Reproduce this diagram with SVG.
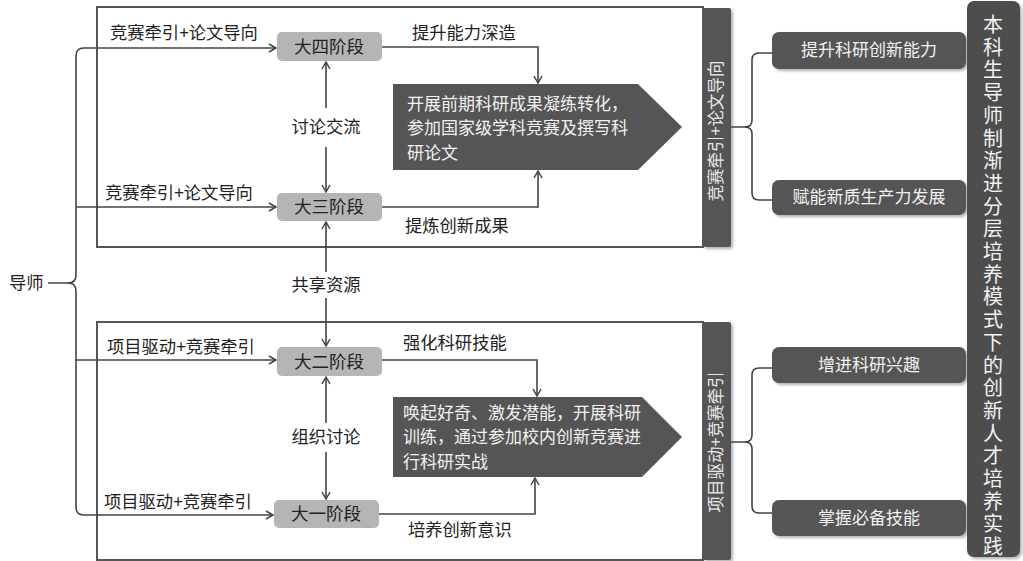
<svg xmlns="http://www.w3.org/2000/svg" width="1023" height="561" viewBox="0 0 1023 561">
<style>
text{font-family:"Noto Sans CJK SC","Liberation Sans",sans-serif;}
.lbl{font-size:17.3px;fill:#222;}
.stage{fill:#b5b5b5;}
.stxt{font-size:17.5px;fill:#222;text-anchor:middle;}
.frame{fill:none;stroke:#555;stroke-width:2;}
.bar{fill:#555;}
.dark{fill:#555;}
.wt{fill:#f2f2f2;font-size:17px;}
.ln{fill:none;stroke:#444;stroke-width:1.6;}
.vt{fill:#e8e8e8;font-size:16.5px;text-anchor:middle;}
</style>
<defs>
<marker id="ar" markerUnits="userSpaceOnUse" markerWidth="12" markerHeight="12" refX="8" refY="5" orient="auto">
<path d="M1,1 L8,5 L1,9" fill="none" stroke="#444" stroke-width="1.5"/>
</marker>
<filter id="sh" x="-20%" y="-5%" width="160%" height="115%">
<feDropShadow dx="2" dy="2" stdDeviation="1.5" flood-color="#000" flood-opacity="0.3"/>
</filter>
</defs>

<g id="frames">
<rect class="frame" x="97" y="7" width="606" height="240"/>
<rect class="frame" x="97" y="322" width="606" height="238"/>
</g>

<g id="bar-top"><rect class="bar" x="703" y="8" width="28" height="239" rx="2" filter="url(#sh)"/>
<text class="vt" transform="translate(722,131) rotate(-90)">竞赛牵引+论文导向</text></g>
<g id="bar-bottom"><rect class="bar" x="703" y="322" width="28" height="238" rx="2" filter="url(#sh)"/>
<text class="vt" transform="translate(722,442) rotate(-90)">项目驱动+竞赛牵引</text></g>

<g id="teacher"><text class="lbl" x="9" y="289">导师</text></g>

<g id="stage4"><rect class="stage" x="277" y="32" width="105" height="29" rx="5"/><text class="stxt" x="329" y="53">大四阶段</text></g>
<g id="stage3"><rect class="stage" x="277" y="193" width="105" height="28" rx="5"/><text class="stxt" x="329" y="213">大三阶段</text></g>
<g id="stage2"><rect class="stage" x="277" y="347" width="105" height="29" rx="5"/><text class="stxt" x="329" y="368">大二阶段</text></g>
<g id="stage1"><rect class="stage" x="274" y="500" width="105" height="28" rx="5"/><text class="stxt" x="326" y="520">大一阶段</text></g>

<g id="penta-top"><polygon class="dark" points="393,84 638,84 682,127 638,170 393,170"/>
<text class="wt"><tspan x="407" y="110">开展前期科研成果凝练转化，</tspan><tspan x="407" y="134">参加国家级学科竞赛及撰写科</tspan><tspan x="407" y="159">研论文</tspan></text></g>
<g id="penta-bottom"><polygon class="dark" points="393,397 642,397 682,437 642,477 393,477"/>
<text class="wt"><tspan x="403" y="419">唤起好奇、激发潜能，开展科研</tspan><tspan x="403" y="443">训练，通过参加校内创新竞赛进</tspan><tspan x="403" y="468">行科研实战</tspan></text></g>

<g id="out1"><rect class="dark" x="772" y="32" width="194" height="37" rx="7" filter="url(#sh)"/><text class="wt" x="869" y="56" text-anchor="middle">提升科研创新能力</text></g>
<g id="out2"><rect class="dark" x="772" y="180" width="194" height="35" rx="7" filter="url(#sh)"/><text class="wt" x="869" y="203" text-anchor="middle">赋能新质生产力发展</text></g>
<g id="out3"><rect class="dark" x="772" y="347" width="194" height="36" rx="7" filter="url(#sh)"/><text class="wt" x="869" y="371" text-anchor="middle">增进科研兴趣</text></g>
<g id="out4"><rect class="dark" x="772" y="500" width="194" height="36" rx="7" filter="url(#sh)"/><text class="wt" x="869" y="524" text-anchor="middle">掌握必备技能</text></g>

<g id="title"><rect x="967" y="1" width="53" height="556" rx="7" fill="#4d4d4d" filter="url(#sh)"/>
<text fill="#f2f2f2" font-size="20" text-anchor="middle"><tspan x="993" y="32">本</tspan><tspan x="993" dy="22.7">科</tspan><tspan x="993" dy="22.7">生</tspan><tspan x="993" dy="22.7">导</tspan><tspan x="993" dy="22.7">师</tspan><tspan x="993" dy="22.7">制</tspan><tspan x="993" dy="22.7">渐</tspan><tspan x="993" dy="22.7">进</tspan><tspan x="993" dy="22.7">分</tspan><tspan x="993" dy="22.7">层</tspan><tspan x="993" dy="22.7">培</tspan><tspan x="993" dy="22.7">养</tspan><tspan x="993" dy="22.7">模</tspan><tspan x="993" dy="22.7">式</tspan><tspan x="993" dy="22.7">下</tspan><tspan x="993" dy="22.7">的</tspan><tspan x="993" dy="22.7">创</tspan><tspan x="993" dy="22.7">新</tspan><tspan x="993" dy="22.7">人</tspan><tspan x="993" dy="22.7">才</tspan><tspan x="993" dy="22.7">培</tspan><tspan x="993" dy="22.7">养</tspan><tspan x="993" dy="22.7">实</tspan><tspan x="993" dy="22.7">践</tspan></text></g>

<g id="connectors">
<path class="ln" d="M48,283 H68 Q76,283 76,275 V56 Q76,48 84,48 H276" marker-end="url(#ar)"/>
<path class="ln" d="M68,283 Q76,283 76,291 V507 Q76,515 84,515 H273" marker-end="url(#ar)"/>
<path class="ln" d="M76,207 H276" marker-end="url(#ar)"/>
<path class="ln" d="M76,360 H276" marker-end="url(#ar)"/>

<path class="ln" d="M326,108 V62" marker-end="url(#ar)"/>
<path class="ln" d="M326,147 V192" marker-end="url(#ar)"/>
<path class="ln" d="M326,272 V222" marker-end="url(#ar)"/>
<path class="ln" d="M326,298 V346" marker-end="url(#ar)"/>
<path class="ln" d="M326,423 V377" marker-end="url(#ar)"/>
<path class="ln" d="M326,452 V499" marker-end="url(#ar)"/>

<path class="ln" d="M382,47 H538 V83" marker-end="url(#ar)"/>
<path class="ln" d="M382,207 H538 V171" marker-end="url(#ar)"/>
<path class="ln" d="M382,360 H537 V396" marker-end="url(#ar)"/>
<path class="ln" d="M379,514 H535 V478" marker-end="url(#ar)"/>

<path class="ln" d="M731,127 H745 Q752,127 752,120 V60 Q752,53 759,53 H772"/>
<path class="ln" d="M745,127 Q752,127 752,134 V193 Q752,200 759,200 H772"/>
<path class="ln" d="M731,442 H745 Q752,442 752,435 V375 Q752,368 759,368 H772"/>
<path class="ln" d="M745,442 Q752,442 752,449 V506 Q752,513 759,513 H772"/>
</g>

<g id="labels">
<text class="lbl" x="110" y="39">竞赛牵引+论文导向</text>
<text class="lbl" x="105" y="199">竞赛牵引+论文导向</text>
<text class="lbl" x="107" y="353">项目驱动+竞赛牵引</text>
<text class="lbl" x="104" y="508">项目驱动+竞赛牵引</text>
<text class="lbl" x="412" y="39">提升能力深造</text>
<text class="lbl" x="405" y="232">提炼创新成果</text>
<text class="lbl" x="403" y="349">强化科研技能</text>
<text class="lbl" x="408" y="536">培养创新意识</text>
<text class="lbl" x="326" y="133" text-anchor="middle">讨论交流</text>
<text class="lbl" x="326" y="291" text-anchor="middle">共享资源</text>
<text class="lbl" x="326" y="443" text-anchor="middle">组织讨论</text>
</g>
</svg>
